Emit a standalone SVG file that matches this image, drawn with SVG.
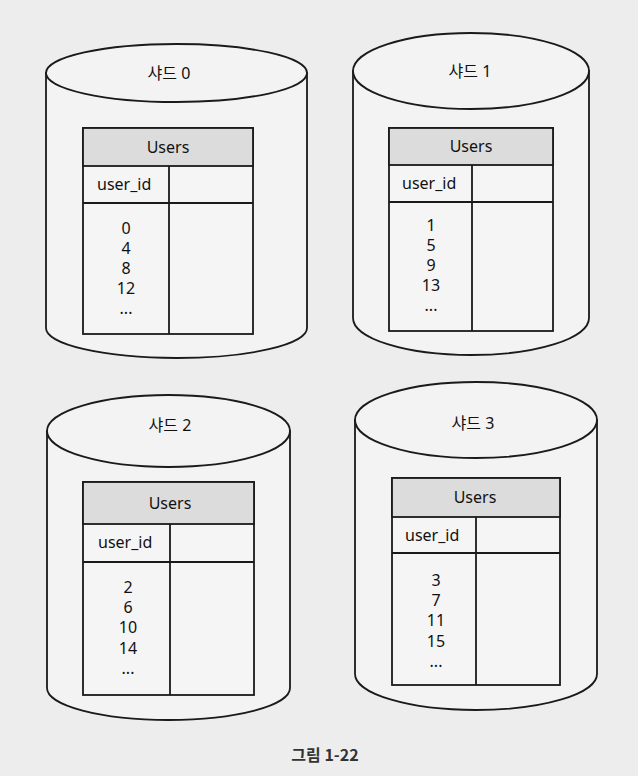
<svg xmlns="http://www.w3.org/2000/svg" width="638" height="776" viewBox="0 0 638 776">
<style>
.bg{fill:#ededed}
.cyl{fill:#f3f3f3;stroke:#1a1a1a;stroke-width:1.8}
.tbl{fill:#f5f5f5;stroke:#1a1a1a;stroke-width:1.8}
.hdr{fill:#dcdcdc;stroke:#1a1a1a;stroke-width:1.8}
.ln{stroke:#1a1a1a;stroke-width:1.8;fill:none}
text{font-family:"Noto Sans","Noto Sans CJK KR",sans-serif;font-size:16px;fill:#111}
.c{text-anchor:middle}
.cap{font-family:"Noto Sans CJK KR",sans-serif;font-weight:bold;font-size:16px;fill:#333}
</style>
<rect class="bg" x="0" y="0" width="638" height="776"/>

<g id="shard0">
<path class="cyl" d="M46,73 L46,328 A130.5,30 0 0 0 307,328 L307,73 Z"/>
<ellipse class="cyl" cx="176.5" cy="73" rx="130.5" ry="29"/>
<text class="c" x="169" y="79">샤드 0</text>
<rect class="tbl" x="83" y="128" width="170" height="206"/>
<rect class="hdr" x="83" y="128" width="170" height="38"/>
<line class="ln" x1="83" y1="203" x2="253" y2="203"/>
<line class="ln" x1="169" y1="166" x2="169" y2="334"/>
<text class="c" x="168" y="153">Users</text>
<text x="97" y="190">user_id</text>
<text class="c" x="126" y="234">0</text>
<text class="c" x="126" y="254">4</text>
<text class="c" x="126" y="274">8</text>
<text class="c" x="126" y="294">12</text>
<text class="c" x="126" y="314">...</text>
</g>

<g id="shard1">
<path class="cyl" d="M353,71 L353,318 A118,37 0 0 0 589,318 L589,71 Z"/>
<ellipse class="cyl" cx="471" cy="71" rx="118" ry="38"/>
<text class="c" x="470" y="77">샤드 1</text>
<rect class="tbl" x="389" y="128" width="164" height="203"/>
<rect class="hdr" x="389" y="128" width="164" height="37"/>
<line class="ln" x1="389" y1="202" x2="553" y2="202"/>
<line class="ln" x1="472" y1="165" x2="472" y2="331"/>
<text class="c" x="471" y="152">Users</text>
<text x="402" y="189">user_id</text>
<text class="c" x="431" y="231">1</text>
<text class="c" x="431" y="251">5</text>
<text class="c" x="431" y="271">9</text>
<text class="c" x="431" y="291">13</text>
<text class="c" x="431" y="311">...</text>
</g>

<g id="shard2">
<path class="cyl" d="M47,431 L47,688 A121.5,32 0 0 0 290,688 L290,431 Z"/>
<ellipse class="cyl" cx="168.5" cy="431" rx="121.5" ry="36"/>
<text class="c" x="170" y="431">샤드 2</text>
<rect class="tbl" x="83" y="482" width="171" height="213"/>
<rect class="hdr" x="83" y="482" width="171" height="42"/>
<line class="ln" x1="83" y1="562" x2="254" y2="562"/>
<line class="ln" x1="170" y1="524" x2="170" y2="695"/>
<text class="c" x="170" y="509">Users</text>
<text x="98" y="548">user_id</text>
<text class="c" x="128" y="593">2</text>
<text class="c" x="128" y="613">6</text>
<text class="c" x="128" y="633">10</text>
<text class="c" x="128" y="654">14</text>
<text class="c" x="128" y="674">...</text>
</g>

<g id="shard3">
<path class="cyl" d="M355,420 L355,674 A121,36 0 0 0 597,674 L597,420 Z"/>
<ellipse class="cyl" cx="476" cy="420" rx="121" ry="38"/>
<text class="c" x="473" y="429">샤드 3</text>
<rect class="tbl" x="392" y="478" width="168" height="207"/>
<rect class="hdr" x="392" y="478" width="168" height="39"/>
<line class="ln" x1="392" y1="553" x2="560" y2="553"/>
<line class="ln" x1="476" y1="517" x2="476" y2="685"/>
<text class="c" x="475" y="503">Users</text>
<text x="405" y="541">user_id</text>
<text class="c" x="436" y="586">3</text>
<text class="c" x="436" y="606">7</text>
<text class="c" x="436" y="626">11</text>
<text class="c" x="436" y="647">15</text>
<text class="c" x="436" y="667">...</text>
</g>

<g id="connectors"></g>

<text class="cap" x="325" y="761" text-anchor="middle">그림 1-22</text>
</svg>
